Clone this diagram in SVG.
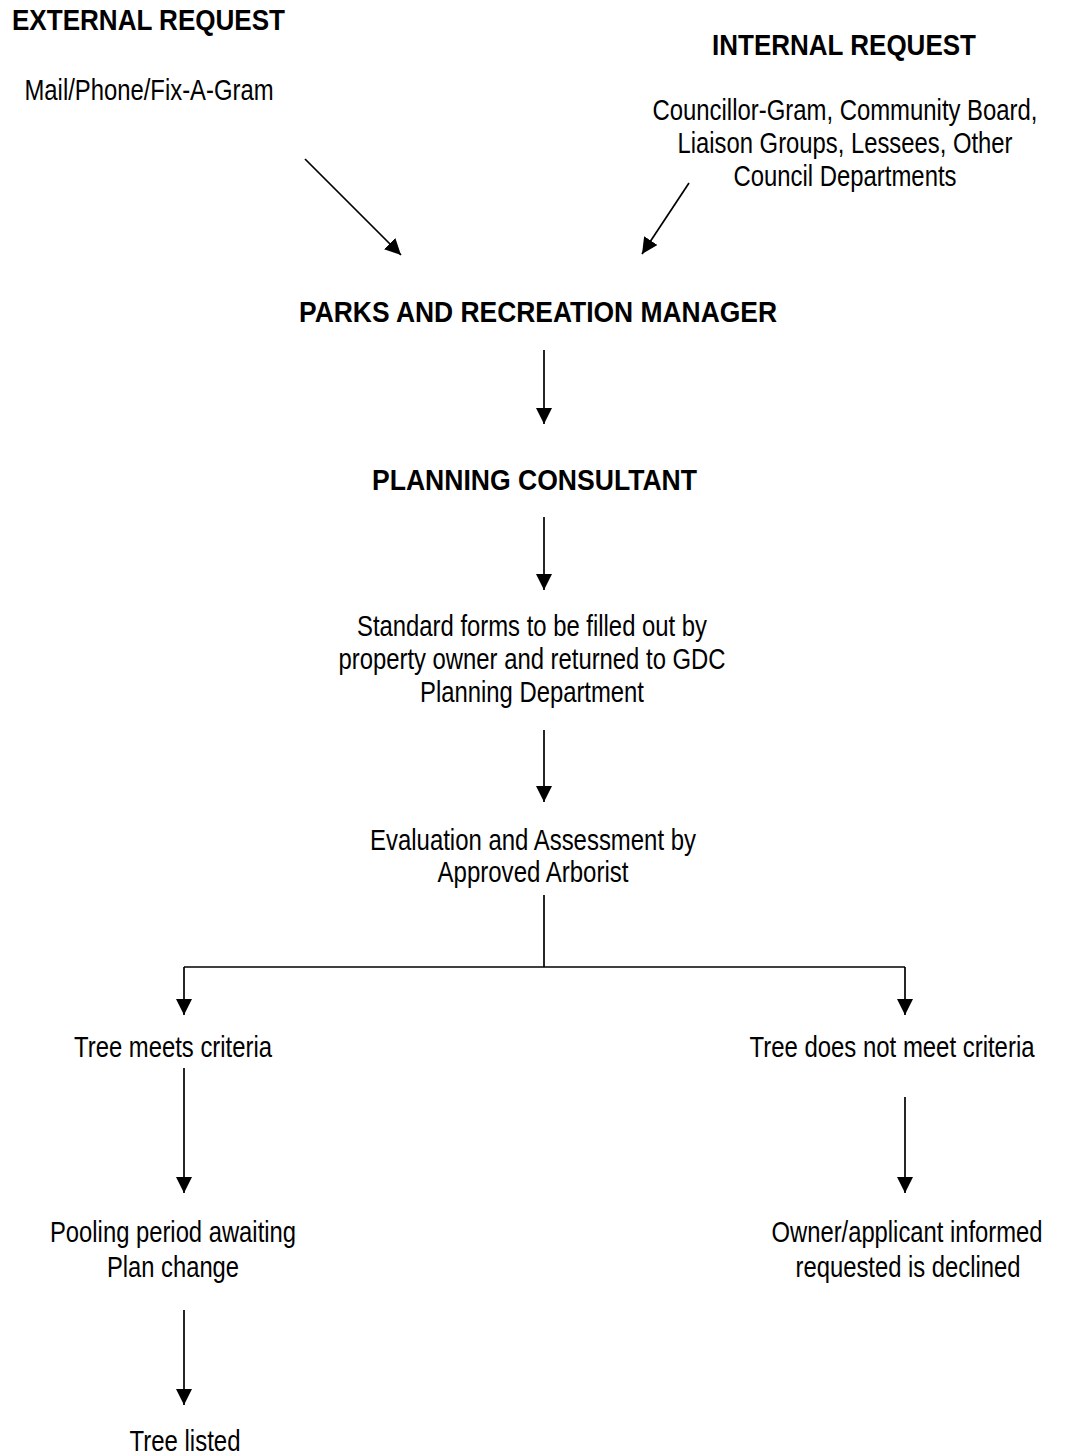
<svg xmlns="http://www.w3.org/2000/svg" width="1067" height="1456" viewBox="0 0 1067 1456">
<style>
.t{font-family:"Liberation Sans Narrow","Liberation Sans",Arial,sans-serif;font-size:29px;fill:#000;text-anchor:middle;}
.h{font-family:"Liberation Sans","Arial",sans-serif;font-size:29px;font-weight:bold;fill:#000;}
.c{stroke:#000;stroke-width:1.7;fill:none;}
</style>
<defs>
<marker id="ah" markerUnits="userSpaceOnUse" markerWidth="16" markerHeight="16" refX="16" refY="8" orient="auto">
<path d="M0,0 L16,8 L0,16 Z" fill="#000"/>
</marker>
</defs>
<rect width="1067" height="1456" fill="#fff"/>
<g id="external">
<text class="h" x="12" y="30" textLength="273" lengthAdjust="spacingAndGlyphs">EXTERNAL REQUEST</text>
<text class="t" x="149" y="100" textLength="249" lengthAdjust="spacingAndGlyphs">Mail/Phone/Fix-A-Gram</text>
</g>
<g id="internal">
<text class="h" x="712" y="55" textLength="264" lengthAdjust="spacingAndGlyphs">INTERNAL REQUEST</text>
<text class="t" x="845" y="120" textLength="385" lengthAdjust="spacingAndGlyphs">Councillor-Gram, Community Board,</text>
<text class="t" x="845" y="153" textLength="335" lengthAdjust="spacingAndGlyphs">Liaison Groups, Lessees, Other</text>
<text class="t" x="845" y="186" textLength="223" lengthAdjust="spacingAndGlyphs">Council Departments</text>
</g>
<g id="manager">
<text class="h" x="299" y="322" textLength="478" lengthAdjust="spacingAndGlyphs">PARKS AND RECREATION MANAGER</text>
</g>
<g id="consultant">
<text class="h" x="372" y="490" textLength="325" lengthAdjust="spacingAndGlyphs">PLANNING CONSULTANT</text>
</g>
<g id="forms">
<text class="t" x="532" y="636" textLength="350" lengthAdjust="spacingAndGlyphs">Standard forms to be filled out by</text>
<text class="t" x="532" y="669" textLength="387" lengthAdjust="spacingAndGlyphs">property owner and returned to GDC</text>
<text class="t" x="532" y="702" textLength="224" lengthAdjust="spacingAndGlyphs">Planning Department</text>
</g>
<g id="evaluation">
<text class="t" x="533" y="850" textLength="326" lengthAdjust="spacingAndGlyphs">Evaluation and Assessment by</text>
<text class="t" x="533" y="882" textLength="191" lengthAdjust="spacingAndGlyphs">Approved Arborist</text>
</g>
<g id="meets">
<text class="t" x="173" y="1057" textLength="198" lengthAdjust="spacingAndGlyphs">Tree meets criteria</text>
</g>
<g id="notmeets">
<text class="t" x="892" y="1057" textLength="285" lengthAdjust="spacingAndGlyphs">Tree does not meet criteria</text>
</g>
<g id="pooling">
<text class="t" x="173" y="1242" textLength="246" lengthAdjust="spacingAndGlyphs">Pooling period awaiting</text>
<text class="t" x="173" y="1277" textLength="132" lengthAdjust="spacingAndGlyphs">Plan change</text>
</g>
<g id="declined">
<text class="t" x="907" y="1242" textLength="271" lengthAdjust="spacingAndGlyphs">Owner/applicant informed</text>
<text class="t" x="908" y="1277" textLength="225" lengthAdjust="spacingAndGlyphs">requested is declined</text>
</g>
<g id="listed">
<text class="t" x="185" y="1451" textLength="111" lengthAdjust="spacingAndGlyphs">Tree listed</text>
</g>
<g id="connectors">
<line class="c" x1="305" y1="159" x2="401" y2="255" marker-end="url(#ah)"/>
<line class="c" x1="689" y1="183" x2="642" y2="254" marker-end="url(#ah)"/>
<line class="c" x1="544" y1="350" x2="544" y2="424" marker-end="url(#ah)"/>
<line class="c" x1="544" y1="517" x2="544" y2="590" marker-end="url(#ah)"/>
<line class="c" x1="544" y1="730" x2="544" y2="802" marker-end="url(#ah)"/>
<polyline class="c" points="544,895 544,967"/>
<polyline class="c" points="184,967 905,967"/>
<line class="c" x1="184" y1="967" x2="184" y2="1015" marker-end="url(#ah)"/>
<line class="c" x1="905" y1="967" x2="905" y2="1015" marker-end="url(#ah)"/>
<line class="c" x1="184" y1="1068" x2="184" y2="1193" marker-end="url(#ah)"/>
<line class="c" x1="905" y1="1097" x2="905" y2="1193" marker-end="url(#ah)"/>
<line class="c" x1="184" y1="1310" x2="184" y2="1405" marker-end="url(#ah)"/>
</g>
</svg>
